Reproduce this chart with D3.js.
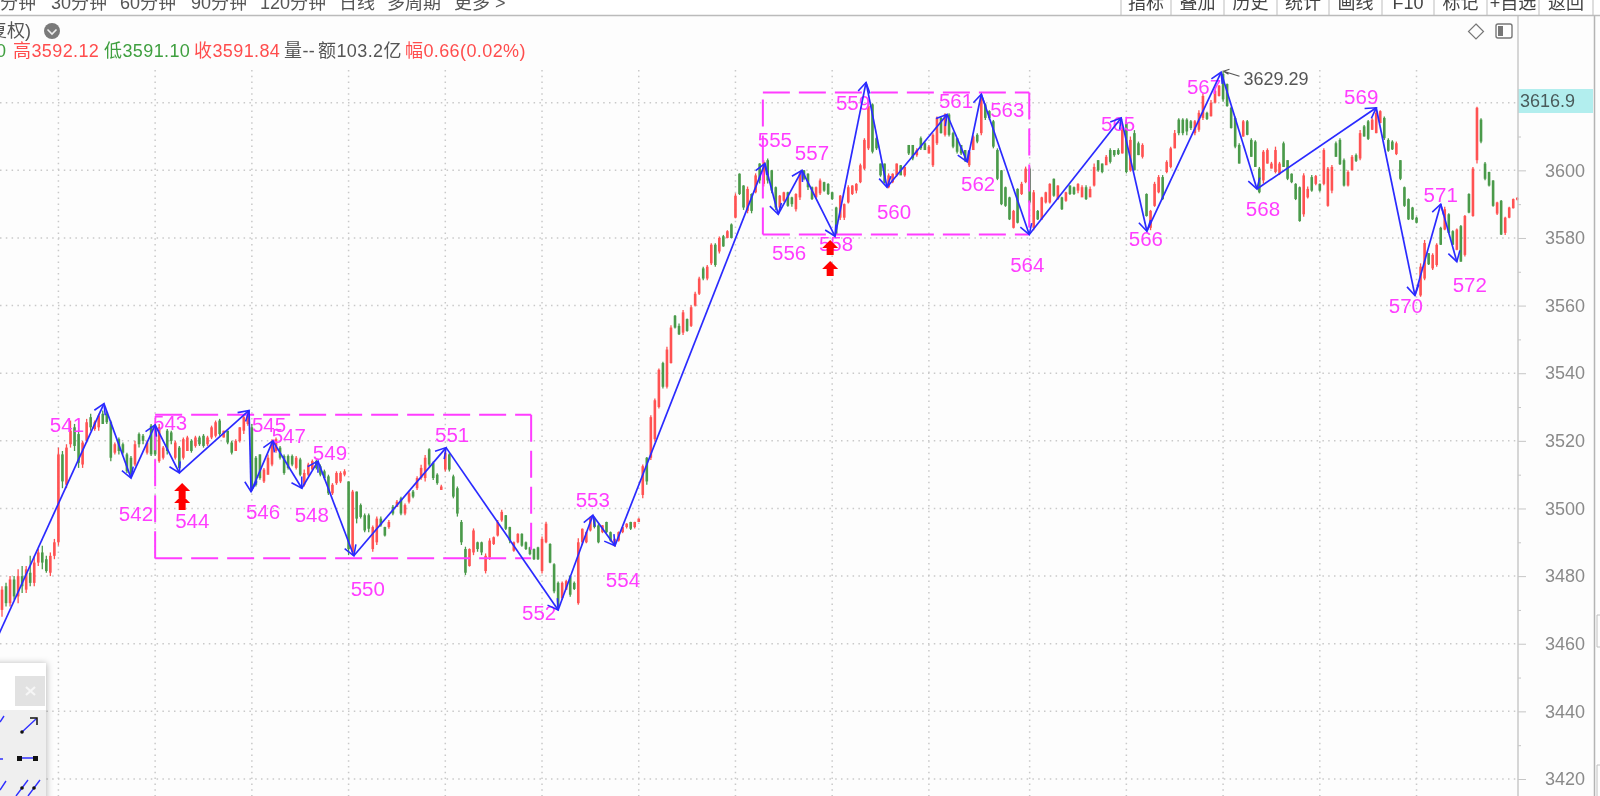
<!DOCTYPE html>
<html><head><meta charset="utf-8">
<script src="https://cdnjs.cloudflare.com/ajax/libs/d3/7.8.5/d3.min.js"></script>
<style>
html,body{margin:0;padding:0;background:#fdfdfd;overflow:hidden}
svg{display:block;filter:blur(.5px);font-family:"Liberation Sans","Noto Sans CJK SC",sans-serif}
</style></head><body>
<svg id="c" width="1600" height="796"></svg>
<script>
// ---- DATA: candles, one row per bar: [open, close, high, low]
const sessionA=[[3470,3476,3477,3468],[3477,3472,3478,3471],[3472,3479,3480,3471],[3479,3474,3480,3473],[3474,3480,3482,3472],[3480,3477,3483,3475],[3476,3482,3483,3475],[3481,3478,3486,3477],[3478,3484,3486,3477],[3484,3487,3488,3483],[3487,3484,3489,3482],[3485,3481.5,3486,3481],[3481,3486,3487,3480],[3486,3490,3491,3485],
[3490,3516,3518,3489],[3516,3508,3517,3506],[3507,3518,3519,3506],[3519,3523,3526,3518],[3524,3518.5,3525,3517],[3522,3513.5,3523,3512],[3513,3519.5,3520,3512],[3520,3525.5,3526.5,3519.5],[3527,3524,3528,3523],[3523.5,3525.5,3526,3523],[3524,3527.5,3528,3523],[3528,3525,3529,3525],[3528,3525.5,3528.5,3525],[3525.5,3515,3526,3514],[3516.5,3519,3519.5,3516],[3520.5,3517,3521,3516],[3519,3516.5,3519.5,3516],[3516,3511,3516.5,3510.5],[3515,3510,3515.5,3509.5],[3513,3519,3520,3512.5],[3522,3519,3522.5,3518],[3521.5,3520,3522,3519],[3516.5,3519.5,3520,3516],[3524.5,3516,3525,3515.5],
[3523.5,3516,3524,3515.5],[3514,3524,3525,3513.5],[3515,3518,3518.5,3514.5],[3523,3517,3523.5,3516],[3522.5,3520,3523,3519],[3515,3519.5,3520,3514.5],[3518,3512,3518.5,3511.5],[3515,3520.5,3521,3514.5],[3517,3521,3521.5,3517],[3520,3517,3520.5,3516.5],[3518.5,3521,3521.5,3518],[3521,3519,3521.5,3518.5],[3521.5,3518.5,3522,3518],[3519,3521,3521.5,3518.5],[3521,3524,3524.5,3520.5],[3521.5,3525.5,3526,3521],[3526,3522,3526.5,3521.5],[3521,3523,3523,3521],[3523,3519.5,3523,3519],[3519.5,3516.5,3520,3516],[3517,3520,3520.5,3517],[3520,3524,3524,3519.5],[3523,3527,3527.5,3522],[3525,3528,3529,3524.5],
[3524,3506,3525,3505.5],[3515,3507,3515.5,3506.5],[3516,3509,3516,3508.5],[3508,3511.5,3512,3507.5],[3510,3515,3516,3510],[3513,3520,3520.5,3512.5],[3517,3520.5,3521,3516.5],[3518,3515,3518.5,3514.5],[3515.5,3510.5,3516,3510],[3515.5,3512,3516,3511.5],[3515.5,3513,3516,3512.5],[3512,3515,3515.5,3511.5],[3514.5,3510,3515,3509.5],[3507,3510.5,3511.5,3506.5],[3510,3513,3513.5,3509.5],[3511.5,3514,3514.5,3511.5],[3514,3512,3514.5,3511.5],[3512.5,3510,3513,3509.5],[3511,3509,3511.5,3508.5],[3509.5,3504.5,3510,3504],[3504.5,3507,3507.5,3504],[3507.5,3510.5,3511,3507],[3508,3510.5,3511,3507.5],[3510,3511,3511.6,3509.5]];
const sessionB=[[3508,3488,3508,3486.2],[3487,3505,3505.5,3486.2],[3505,3497,3505,3495.6],[3501,3497.5,3501.5,3497],[3498,3493.5,3498.5,3493],[3498,3494,3498.5,3493],[3488,3494.5,3495,3487.2],[3490,3497,3497.6,3489.2],[3497,3495,3497.6,3494.6],[3494.5,3492,3494.6,3491.7],[3494.5,3496,3496.6,3494],[3500.5,3498.5,3501,3498],[3500.5,3502,3502.5,3500.5],[3503,3498.5,3503.5,3498],[3498.5,3501,3501.5,3498],[3502,3504.5,3505,3501.5],[3505,3503.5,3505.5,3503],[3506,3509,3509.5,3505.5],[3509,3512,3512.9,3508.5],[3509,3515,3515.8,3508],[3517.5,3513,3517.8,3512.4],[3513.5,3509,3513.9,3508.4],[3510,3507.5,3510.4,3507],[3505.5,3506.5,3507,3505.5],
[3511.5,3516.5,3517.3,3510.9],[3516,3511.5,3516.3,3510.9],[3509.5,3503.5,3510,3503],[3506,3498.5,3506.5,3497.6],[3496,3490,3496.6,3489.2],[3488,3481,3488.7,3480.3],[3483,3488,3488.2,3482.8],[3487,3493.5,3494.1,3486.2],[3490,3488,3490.2,3487.2],[3490,3487,3490.2,3486.2],[3481.5,3486,3486.7,3480.8],[3485.5,3490.5,3491.2,3484.8],[3489.5,3491.5,3491.7,3489.2],[3492,3496,3496.6,3491.7],[3496.5,3499,3499.6,3496.1],[3498,3494,3498.1,3493.6],[3494.5,3490.5,3494.6,3489.7],[3487.5,3490,3490.2,3487.2],[3490,3492.5,3492.7,3489.7],[3492.5,3489,3492.7,3488.7],[3490,3488,3490.2,3487.7],[3488.5,3486.5,3488.7,3486.2],[3488,3485,3488.2,3484.8],[3488.5,3485,3488.7,3484.8],
[3481.5,3491,3491.7,3480.8],[3490,3495.5,3496.1,3489.7],[3489.5,3484,3489.7,3483.8],[3483.5,3475.5,3483.8,3474.9],[3478,3471,3478.4,3470.5],[3473.5,3478,3478.4,3473],[3476,3478.5,3478.9,3475.9],[3480,3474.5,3480.3,3473.9],[3478,3476.2,3478.4,3475.9],[3472,3490,3491.2,3471.5],[3490,3494,3494.1,3489.2],[3490,3493,3493.2,3489.7],[3493.5,3497,3497.6,3493.2],[3497,3494.5,3497.6,3494.1],[3495,3490,3495.6,3489.7],[3493,3495,3495.1,3492.7],[3496,3493,3496.1,3492.7],[3493,3490.5,3493.2,3490.2],[3489,3491,3491.2,3488.7],[3490.5,3493,3493.2,3490.2],[3493,3494.5,3494.6,3492.7],[3494.5,3495.5,3495.6,3494.1],[3496,3494,3496.1,3493.6],[3494.5,3496,3496.1,3494.1],[3496,3497,3497.1,3496.1]];
const sessionC=[[3504,3512.5,3513,3503],[3515,3508,3515.2,3507],[3515,3527,3527.6,3514.3],[3520.5,3532,3532.5,3519.7],[3530,3541,3541.4,3529.6],[3543,3536,3543.4,3535.5],[3536,3547,3547.8,3535.5],[3543,3553.5,3554.2,3542.9],[3557,3553.5,3557.2,3553.2],[3554,3551.5,3554.7,3551.3],[3552,3558,3558.7,3551.3],[3556,3552.5,3556.2,3552.3],[3554,3559.5,3560.1,3553.7],[3560,3563.5,3564.1,3559.7],[3563.5,3568,3568.5,3563.1],[3571,3568,3571.5,3567.5],[3568,3571.5,3572,3567.5],[3572.5,3578,3578.4,3572],[3578,3572,3578.4,3571.5],[3576,3580,3580.4,3575.4],[3580.5,3577.5,3580.9,3577.4],[3580,3582,3582.3,3579.9],[3584,3580,3584.3,3579.9],
[3586,3592.5,3593.2,3585.8],[3599,3593,3599.1,3592.7],[3595.5,3589,3595.6,3588.3],[3588,3594.5,3595.2,3587.3],[3593,3588,3593.2,3587.3],[3593.5,3598.5,3599.1,3593.2],[3602,3597,3602.1,3596.1],[3596,3602.5,3603,3595.2],[3603,3597,3603.5,3596.1],[3600,3594,3600.1,3593.2],[3595,3589,3595.2,3588.3],[3589,3592.5,3592.7,3588.3],[3591,3593.5,3593.7,3590.7],[3593.5,3589.5,3593.7,3589.2],[3592,3590,3592.2,3589.2],[3588.5,3593,3593.2,3587.8],[3592,3599,3599.6,3591.2],[3600,3597.5,3600.1,3597.1],[3599,3595,3599.1,3594.2],[3595,3591.5,3595.2,3591.2],[3592,3595,3595.2,3591.7],[3593.2,3597,3597.6,3592.7],[3596.5,3594,3596.6,3593.7],[3596,3593,3596.2,3592.7],[3593.5,3591.5,3593.7,3591.2],
[3589,3581,3589.2,3580.9],[3586,3592.5,3592.7,3585.3],[3586,3590,3590.2,3585.3],[3590.5,3595,3595.6,3590.2],[3593,3595.5,3595.6,3592.7],[3594,3596,3596.2,3593.2],[3596.5,3601.5,3602,3596.2],[3600.5,3609,3609.5,3600.1],[3606.5,3619,3619.8,3606],[3619.5,3605.5,3619.8,3605],[3609.5,3606.5,3610,3606],[3602,3598.5,3602,3598.1],[3602,3596.5,3602,3596.2],[3595,3598.5,3599.1,3594.7],[3596.5,3599,3599.1,3596.2],[3598.5,3602,3602,3598.1],[3601.5,3598.5,3601.6,3598.6],[3598.5,3601,3601.1,3598.1],[3607.5,3605,3607.5,3604.5],[3607.5,3603.5,3607.5,3603],[3604.5,3606,3606.5,3604],[3609.5,3606.5,3610,3606],[3608,3606,3608.5,3606],[3605,3607,3607.5,3605],
[3601.5,3610.5,3611,3601],[3608,3615.5,3615.9,3607.5],[3615.5,3611,3615.9,3610.9],[3610.5,3616.5,3616.9,3610],[3616.5,3610.5,3616.9,3610],[3611,3607,3611.4,3606.5],[3609.5,3605.5,3609.5,3605],[3607.5,3605,3607.5,3604.5],[3606,3603,3606,3602.5],[3601.5,3605.5,3606,3601],[3606,3610,3610.4,3606],[3610.5,3608.5,3611,3608],[3611,3622,3622.8,3610.4],[3619.5,3615.5,3619.8,3614.9],[3617.5,3615.5,3617.8,3614.9],[3614.5,3607,3614.9,3606.5],[3606,3597.5,3606.5,3597.1],[3600,3590,3600.1,3589.7],[3595,3589.5,3595.2,3589.2],[3592,3585.5,3592.2,3585.3],[3583,3588,3588.3,3582.8],[3594.5,3584.5,3594.7,3584.3],[3593,3596,3596.6,3592.7],[3596.5,3600.5,3601.1,3596.2],[3600.5,3590.5,3601.1,3590.2]];
const sessionD=[[3583,3593.5,3594.2,3582.3],[3588,3585.5,3588.3,3585.3],[3585.5,3592,3592.2,3585.3],[3590.5,3593.5,3593.7,3590.2],[3590.5,3596,3596.2,3590.2],[3597.5,3592.5,3597.6,3592.2],[3591.5,3595.5,3595.6,3591.2],[3592,3588.5,3592.2,3588.3],[3591,3593.5,3593.7,3590.7],[3595.5,3593,3595.6,3592.7],[3595,3593,3595.2,3592.7],[3594,3596,3596.2,3593.2],[3592,3595,3595.6,3592.2],[3595,3591.5,3595.6,3591.2],[3592,3594.5,3595.2,3592.2],[3595.5,3601,3602,3595.2],[3603,3600,3603,3599.6],[3602,3599.5,3602,3599.1],[3601.5,3604,3604.5,3601.6],[3606,3602.5,3606.5,3602],[3606,3604.5,3606,3604],[3606,3604.8,3606.5,3604.5],[3605,3612,3612.9,3605],
[3614,3599.5,3614.9,3599.1],[3600,3609,3610,3599.6],[3611,3600,3611.9,3600],[3608,3604.5,3608.5,3604.5],[3604,3607.5,3608,3603.5],[3593,3586.5,3593.2,3586.3],[3583,3588,3588.3,3582.3],[3589.5,3596,3596.6,3589.2],[3593.5,3598,3598.6,3593.2],[3598,3591.5,3598.6,3591.2],[3599.5,3602.5,3603,3599.1],[3601,3606.5,3607,3600.6],[3606.5,3611,3611.9,3606.5],[3615,3611,3615.4,3610.4],[3615,3611,3615.4,3610.4],[3615,3611.5,3615.4,3610.4],[3614.5,3612.5,3614.9,3611.9],[3611,3614.5,3614.9,3610.4],[3612,3617,3617.8,3611.4],[3615.5,3622,3622.8,3614.9],[3617,3615.2,3617.3,3614.9],[3616,3620,3620.8,3615.9],[3620,3623.5,3623.8,3619.8],[3622,3625,3625.2,3621.8],[3628.5,3621,3629.29,3620.3],
[3625.5,3619,3625.7,3618.8],[3618.5,3612.5,3618.8,3612.4],[3615.5,3607,3615.9,3606.5],[3607.5,3602,3608,3602],[3610,3614.5,3614.9,3609.9],[3614.5,3610.5,3614.9,3610.4],[3609,3604,3609.5,3604],[3608.5,3601,3608.9,3601],[3600.5,3593.5,3601,3593.2],[3597,3605.5,3606,3596.1],[3602,3606,3606.5,3602],[3600.5,3602,3602.5,3600.6],[3599.5,3606,3607,3599.1],[3599,3602,3602.5,3598.6],[3608,3601,3608.5,3601],[3603,3597.5,3603,3597.1],[3599,3596.5,3599.1,3596.2],[3596,3591.5,3596.2,3591.2],[3595,3585,3595.2,3584.8],[3587,3598.5,3599.1,3586.3],[3592,3594.5,3595.2,3591.7],[3598,3594,3598.6,3593.7],[3596,3598.3,3598.6,3595.6],[3596,3594,3596.1,3593.7],
[3596,3606,3606.5,3595.6],[3589.5,3600.5,3601,3589.2],[3594,3601,3601.6,3593.2],[3608,3604,3608.5,3604],[3609,3601.8,3609.5,3601.6],[3603,3595.5,3603.5,3595.2],[3595.5,3599.5,3600,3595.2],[3600,3604,3604.5,3600],[3604.5,3602.8,3605,3602.5],[3603.5,3611,3611.9,3603],[3613,3610,3613.4,3610],[3614.5,3609.3,3614.9,3609],[3612,3615,3615.4,3611.9],[3611,3617,3617.8,3611],[3614,3617.5,3617.8,3613.9],[3615.5,3609.5,3615.9,3609],[3609,3605.8,3609.5,3605.5],[3608.5,3606.2,3608.9,3606],[3604.8,3608,3608.5,3604.5],[3603,3597.5,3603,3597.1],[3595,3589.5,3595.2,3589.2],[3591.5,3585.5,3591.7,3585.3],[3589,3585.5,3589.2,3585.3],[3586,3584.5,3586.3,3584.3]];
const sessionE=[[3563,3571.5,3572.5,3562.6],[3568,3578.5,3579.4,3567.5],[3575.5,3572.2,3575.5,3572],[3571,3575,3575.5,3570.5],[3572,3578,3578.4,3571.5],[3583,3578,3583.3,3577.9],[3582.5,3588.5,3589.2,3582.3],[3587,3581.5,3587.3,3581.4],[3582,3578,3582.3,3577.9],[3576.5,3582.5,3582.8,3576.4],[3583.5,3573,3583.8,3573],[3575,3586.5,3586.8,3574.5],[3593,3587.5,3593.2,3587.3],[3586.5,3600.5,3601,3586.3],[3603,3618.5,3618.8,3602],[3615,3608.5,3615.4,3608],[3602,3597.5,3602.5,3597.1],[3599.5,3595.5,3599.6,3595.2],[3597,3589.5,3597.1,3589.2],[3587.2,3590.5,3590.7,3586.8],[3591,3581,3591.2,3580.9],[3581.5,3586,3586.3,3580.9],[3586,3589,3589.2,3585.8],[3588.8,3591.5,3591.7,3588.7],[3591.3,3591.84,3592.12,3591.1]];

// wave (zigzag) turning points
const waveIds=[540,541,542,543,544,545,546,547,548,549,550,551,552,553,554,555,556,557,558,559,560,561,562,563,564,565,566,567,568,569,570,571,572];
const waveBar=[-3,25.3,32,38,44,61.3,61.8,67.2,74.4,78.4,87.3,110.2,138,146.6,152.1,189.3,192.6,198.5,206.7,214.4,219.6,234.5,239.5,243,254.9,277.7,284.1,302.5,311.4,341,350.6,357,361];
const wavePrice=[3457,3531,3509,3524.7,3510.5,3529,3505,3520,3506,3514,3486,3518,3470,3498,3489,3602,3587,3600,3580.5,3626,3595,3616.5,3602.5,3622.5,3581,3615.5,3582,3629,3594.5,3618.5,3563,3590,3573];

// consolidation boxes
const boxFromBar=[38,188.8], boxToBar=[131.3,254.9], boxHigh=[3527.7,3623], boxLow=[3485.3,3581];
// buy signals (red up arrows)
const signalBar=[44.7,44.7,205.5,205.5], signalPrice=[3507.5,3504,3579.4,3573.2];

// axis
const gridPrices=[3420,3440,3460,3480,3500,3520,3540,3560,3580,3600,3620];
const labelPrices=[3420,3440,3460,3480,3500,3520,3540,3560,3580,3600];
const minorPrices=[3430,3450,3470,3490,3510,3530,3550,3570,3590,3610];
const gridBars=[14,38,62,86,110,134,158,182,206,230,255,279,303,327,351];
const lastPrice="3616.9", peakPrice=3629.29, peakBar=303.1;

// header text
const periodTabs=["分钟","30分钟","60分钟","90分钟","120分钟","日线","多周期","更多 >"];
const toolButtons=["指标","叠加","历史","统计","画线","F10","标记","+自选","返回"];
const infoTexts=[["0","g"],["高3592.12","r"],["低3591.10","g"],["收3591.84","r"],["量--","k"],["额103.2亿","k"],["幅0.66(0.02%)","r"]];

// ---- LAYOUT (pixels; not data)
const tabX=[0,51,120,191,260,339,387,454];
const btnEdges=[1121,1171,1224,1277,1329,1382,1434,1487,1539,1593];
const infoX=[-4,13,104,194,284,318,405];
const labelDX=[-37,5,15,13,20,12,16,10,12,14,6,-19,0,8,10,11,10,1,-13,7,9,11,26,-2,-3,-1,-17,6,-15,-9,0,13];
const labelDY=[21,35,-2,48,14,20,-5,26,-9,33,-13,3,-16,34,-24,38,-18,7,20,24,-14,22,15,30,6,7,14,20,-11,10,-10,23];
const axisX=1518, W=1600, H=796;

const bars=d3.merge([sessionA,sessionB,sessionC,sessionD,sessionE]);
const x=d3.scaleLinear().domain([0,375]).range([2,1513.25]);
const y=d3.scaleLinear().domain([3420,3620]).range([779,102.7]);
const RED="#ff5252",GREEN="#4a9a4a",MAG="#ff3dff",BLUE="#2a2aff";
const svg=d3.select("#c");
const defs=svg.append("defs");
defs.append("marker").attr("id","ah").attr("markerUnits","userSpaceOnUse")
 .attr("markerWidth",24).attr("markerHeight",24).attr("refX",12).attr("refY",12).attr("orient","auto")
 .append("path").attr("d","M2,6L12,12L2,18").attr("fill","none").attr("stroke",BLUE).attr("stroke-width",1.6);
defs.append("filter").attr("id","sh").attr("x","-30%").attr("y","-30%").attr("width","160%").attr("height","160%")
 .append("feDropShadow").attr("dx",1).attr("dy",0).attr("stdDeviation",3).attr("flood-color","#000").attr("flood-opacity",.25);

svg.append("rect").attr("width",W).attr("height",H).attr("fill","#fdfdfd");

// grid
const grid=svg.append("g").attr("stroke","#c9c9c9").attr("stroke-width",1.5).attr("stroke-dasharray","1.5 4.3");
grid.selectAll(".h").data(gridPrices).join("line").attr("x1",0).attr("x2",axisX).attr("y1",d=>y(d)).attr("y2",d=>y(d));
grid.selectAll(".v").data(gridBars).join("line").attr("x1",d=>x(d)).attr("x2",d=>x(d)).attr("y1",70).attr("y2",H);

// candles
const cg=svg.append("g");
const col=d=>d[1]>=d[0]?RED:GREEN;
cg.selectAll(".w").data(bars).join("line").attr("x1",(d,i)=>x(i)).attr("x2",(d,i)=>x(i))
  .attr("y1",d=>y(d[2])).attr("y2",d=>y(d[3])).attr("stroke",col).attr("stroke-width",1.3);
cg.selectAll(".b").data(bars).join("rect").attr("x",(d,i)=>x(i)-1.3).attr("width",2.6)
  .attr("y",d=>y(Math.max(d[0],d[1]))).attr("height",d=>Math.max(1,Math.abs(y(d[0])-y(d[1])))).attr("fill",col);

// boxes
const bg=svg.append("g").attr("stroke",MAG).attr("stroke-width",2).attr("fill","none").attr("stroke-dasharray","27 9");
boxFromBar.forEach((b,i)=>{
  const l=x(b),r=x(boxToBar[i]),t=y(boxHigh[i]),u=y(boxLow[i]);
  bg.append("path").attr("d",`M${l},${u}H${r}`);
  bg.append("path").attr("d",`M${l},${t}H${r}`);
  bg.append("path").attr("d",`M${l},${u}V${t}`);
  bg.append("path").attr("d",`M${r},${t}V${u}`);
});

// wave labels
svg.append("g").selectAll("text").data(waveIds.slice(1)).join("text")
 .attr("x",(d,i)=>x(waveBar[i+1])+labelDX[i]).attr("y",(d,i)=>y(wavePrice[i+1])+labelDY[i])
 .attr("text-anchor","middle").attr("dominant-baseline","central")
 .attr("font-size",20.5).attr("fill",MAG).text(d=>d);

// wave segments
const seg=d3.pairs(d3.range(waveBar.length));
const ln=d3.line().x(i=>x(waveBar[i])).y(i=>y(wavePrice[i]));
svg.append("g").selectAll("path").data(seg).join("path").attr("d",d=>ln(d))
 .attr("fill","none").attr("stroke",BLUE).attr("stroke-width",1.7).attr("marker-end","url(#ah)");

// signals
svg.append("g").selectAll("path").data(signalBar).join("path")
 .attr("transform",(d,i)=>`translate(${x(d)},${y(signalPrice[i])})`)
 .attr("d","M0,0L8,8H3.5V15H-3.5V8H-8Z").attr("fill","#ff0000");

// peak annotation
const pk=svg.append("g").attr("transform",`translate(${x(peakBar)},${y(peakPrice)})`);
pk.append("path").attr("d","M0,0L16,5M0,0L6,-2M0,0L5,3").attr("stroke","#555").attr("fill","none").attr("stroke-width",1.2);
pk.append("text").attr("x",20).attr("y",8).attr("dominant-baseline","central").attr("font-size",18).attr("fill","#555").text(peakPrice.toFixed(2));

// axis
const ag=svg.append("g").attr("transform",`translate(${axisX},0)`);
ag.call(d3.axisRight(y).tickValues(minorPrices).tickSize(3).tickFormat(""));
ag.call(g=>g.select(".domain").remove());
const ag2=svg.append("g").attr("transform",`translate(${axisX},0)`);
ag2.call(d3.axisRight(y).tickValues(labelPrices).tickSize(8).tickPadding(19).tickFormat(d3.format("d")));
ag2.call(g=>g.select(".domain").remove());
svg.selectAll(".tick line").attr("stroke","#c6c6c6");
ag2.selectAll("text").attr("font-size",18).attr("fill","#8a8a8a").attr("font-family","inherit");
svg.append("rect").attr("x",axisX).attr("y",89).attr("width",W-axisX-7).attr("height",24).attr("fill","#b2eeee");
svg.append("text").attr("x",axisX+2).attr("y",101).attr("dominant-baseline","central").attr("font-size",18).attr("fill","#4a5a5a").text(lastPrice);
svg.append("line").attr("x1",axisX).attr("x2",axisX).attr("y1",15).attr("y2",H).attr("stroke","#c8c8c8").attr("stroke-width",1.5);
svg.append("line").attr("x1",1594.5).attr("x2",1594.5).attr("y1",15).attr("y2",H).attr("stroke","#b4b4b4").attr("stroke-width",1.5);
svg.append("path").attr("d","M1600,615H1597V647H1600M1600,765H1597V796").attr("fill","none").attr("stroke","#c0c0c0");

// header
svg.append("rect").attr("width",W).attr("height",15).attr("fill","#fff");
svg.append("g").selectAll("text").data(periodTabs).join("text").attr("x",(d,i)=>tabX[i]).attr("y",9)
 .attr("font-size",18).attr("fill","#555").text(d=>d);
svg.append("line").attr("x1",0).attr("x2",W).attr("y1",15.5).attr("y2",15.5).attr("stroke","#bbb").attr("stroke-width",1.5);
const btn=svg.append("g");
btn.selectAll("line").data(btnEdges).join("line").attr("x1",d=>d).attr("x2",d=>d).attr("y1",0).attr("y2",15).attr("stroke","#bdbdbd");
btn.selectAll("text").data(toolButtons).join("text").attr("x",(d,i)=>(btnEdges[i]+btnEdges[i+1])/2).attr("y",9)
 .attr("text-anchor","middle").attr("font-size",18).attr("fill","#444").text(d=>d);
svg.append("text").attr("x",-17).attr("y",31).attr("dominant-baseline","central").attr("font-size",18).attr("fill","#555").text("(复权)");
svg.append("circle").attr("cx",52).attr("cy",31).attr("r",8).attr("fill","#7a7a7a");
svg.append("path").attr("d","M47.5,29.5L52,34L56.5,29.5").attr("fill","none").attr("stroke","#eee").attr("stroke-width",1.6);
const infoCol={r:"#ff4d4d",g:"#3f9f3f",k:"#555"};
svg.append("g").selectAll("text").data(infoTexts).join("text").attr("x",(d,i)=>infoX[i]).attr("y",51)
 .attr("dominant-baseline","central").attr("font-size",18).attr("letter-spacing",.4).attr("fill",d=>infoCol[d[1]]).text(d=>d[0]);
svg.append("path").attr("d","M1476,24L1483.5,31.5L1476,39L1468.5,31.5Z").attr("fill","none").attr("stroke","#777").attr("stroke-width",1.2);
svg.append("rect").attr("x",1496).attr("y",24).attr("width",16).attr("height",14).attr("rx",2).attr("fill","#fff").attr("stroke","#777").attr("stroke-width",1.4);
svg.append("rect").attr("x",1498).attr("y",26).attr("width",5).attr("height",10).attr("fill","#777");

// drawing-tool panel
const pn=svg.append("g");
pn.append("rect").attr("x",-10).attr("y",663).attr("width",56).attr("height",150).attr("fill","#fff").attr("filter","url(#sh)");
pn.append("rect").attr("x",-10).attr("y",710).attr("width",56).attr("height",90).attr("fill","#efefef");
pn.append("rect").attr("x",15).attr("y",676).attr("width",30).attr("height",30).attr("fill","#e2e2e2");
pn.append("path").attr("d","M26,687L35,695M35,687L26,695").attr("stroke","#f6f6f6").attr("stroke-width",2.2);
pn.append("path").attr("d","M22,732L36,719M0,722L4,716M0,759H3M21,758H34M0,790L6,781M16,796L28,780M28,796L40,780").attr("stroke","#3030ff").attr("stroke-width",1.4);
pn.append("path").attr("d","M30,718H37V725").attr("fill","none").attr("stroke","#111").attr("stroke-width",1.5);
pn.append("circle").attr("cx",22).attr("cy",732).attr("r",1.8).attr("fill","#111");
pn.append("rect").attr("x",17).attr("y",756).attr("width",5).attr("height",5).attr("fill","#111");
pn.append("rect").attr("x",33).attr("y",756).attr("width",5).attr("height",5).attr("fill","#111");
pn.append("circle").attr("cx",22).attr("cy",788).attr("r",1.8).attr("fill","#111");
pn.append("circle").attr("cx",34).attr("cy",788).attr("r",1.8).attr("fill","#111");
</script>
</body></html>
